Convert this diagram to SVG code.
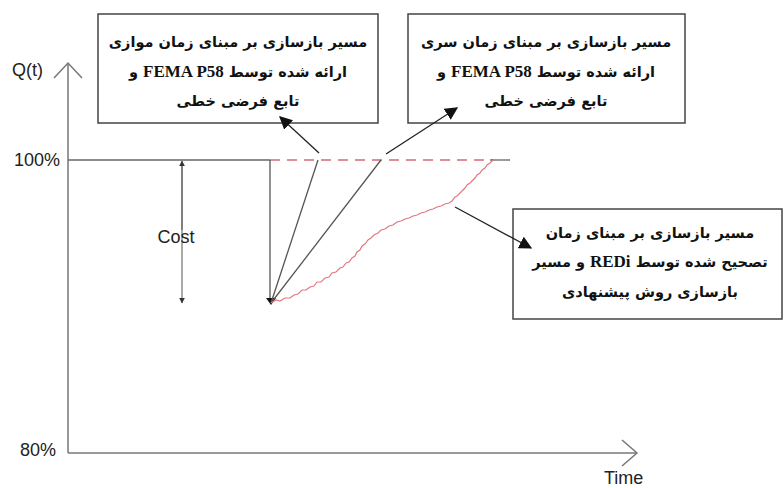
<svg xmlns="http://www.w3.org/2000/svg" width="784" height="488" viewBox="0 0 784 488">
<defs>
<style>
.axis{stroke:#777;stroke-width:1.5;fill:none}
.lbl{font-family:"Liberation Sans",Arial,sans-serif;font-size:18px;fill:#222}
.box{fill:#fff;stroke:#444;stroke-width:1.5}
.fa{font-family:"DejaVu Sans",sans-serif;font-weight:bold;font-size:14.5px;fill:#111;direction:rtl;text-anchor:middle}
.lat{font-family:"Liberation Serif",serif;font-weight:bold;font-size:17px}
.ray{stroke:#555;stroke-width:1.3;fill:none}
.ptr{stroke:#222;stroke-width:1.3;fill:none}
</style>
<marker id="ah" viewBox="0 0 10 10" refX="9" refY="5" markerWidth="13" markerHeight="13" markerUnits="userSpaceOnUse" orient="auto">
<path d="M0,0L10,5L0,10z" fill="#111"/>
</marker>
<marker id="sm" viewBox="0 0 10 10" refX="9" refY="5" markerWidth="6" markerHeight="6" markerUnits="userSpaceOnUse" orient="auto">
<path d="M0,0L10,5L0,10z" fill="#333"/>
</marker>
</defs>
<g id="axes">
<line class="axis" x1="68" y1="453" x2="68" y2="63"/>
<polyline class="axis" points="54,78 68,63 82,78"/>
<line class="axis" x1="68" y1="453" x2="637" y2="453"/>
<polyline class="axis" points="622,440 637,453 622,466"/>
<text class="lbl" x="12" y="76">Q(t)</text>
<text class="lbl" x="14" y="166">100%</text>
<text class="lbl" x="20" y="456">80%</text>
<text class="lbl" x="604" y="484" font-size="16">Time</text>
</g>
<g id="baseline">
<line x1="68" y1="160" x2="270" y2="160" stroke="#666" stroke-width="1.3"/>
<line x1="270" y1="160" x2="493" y2="160" stroke="#d86a7a" stroke-width="1.3" stroke-dasharray="10,7"/>
<line x1="490" y1="160" x2="510" y2="160" stroke="#666" stroke-width="1.3"/>
</g>
<g id="cost">
<line x1="182" y1="166" x2="182" y2="303" stroke="#555" stroke-width="1" marker-end="url(#sm)"/>
<line x1="182" y1="230" x2="182" y2="161" stroke="#555" stroke-width="1" marker-end="url(#sm)"/>
<text class="lbl" x="176" y="243" text-anchor="middle" font-size="19">Cost</text>
</g>
<g id="paths">
<line class="ray" x1="270" y1="160" x2="270" y2="301"/>
<path d="M266,298L276,298L271,305z" fill="#111"/>
<line class="ray" x1="271" y1="303" x2="318" y2="160"/>
<line class="ray" x1="271" y1="303" x2="381" y2="160"/>
<polyline fill="none" stroke="#e07a80" stroke-width="1.2" points="271,303 276,300 280,301 285,298 290,298 294,295 298,294 302,290 306,290 310,287 314,286 317,282 321,282 325,278 329,277 332,273 336,272 340,268 343,267 346,263 349,262 352,258 355,256 357,252 360,250 362,246 365,244 368,240 371,238 374,235 378,233 381,230 385,229 389,226 393,225 397,222 401,221 405,219 409,218 413,216 417,215 421,213 425,212 429,210 433,209 437,207 441,206 445,204 449,203 452,201 455,197 457,196 460,193 463,190 465,188 467,185 470,183 473,180 475,178 477,175 480,173 482,170 485,168 487,165 490,163 493,160"/>
</g>
<g id="box1">
<rect class="box" x="98" y="14" width="280" height="109"/>
<text class="fa" x="238" y="47">مسیر بازسازی بر مبنای زمان موازی</text>
<text class="fa" x="238" y="77">ارائه شده توسط <tspan class="lat">FEMA P58</tspan> و</text>
<text class="fa" x="238" y="106">تابع فرضی خطی</text>
</g>
<g id="box2">
<rect class="box" x="408" y="14" width="277" height="109"/>
<text class="fa" x="546" y="47">مسیر بازسازی بر مبنای زمان سری</text>
<text class="fa" x="546" y="77">ارائه شده توسط <tspan class="lat">FEMA P58</tspan> و</text>
<text class="fa" x="546" y="106">تابع فرضی خطی</text>
</g>
<g id="box3">
<rect class="box" x="513" y="209" width="269" height="110"/>
<text class="fa" x="650" y="238">مسیر بازسازی بر مبنای زمان</text>
<text class="fa" x="650" y="267">تصحیح شده توسط <tspan class="lat">REDi</tspan> و مسیر</text>
<text class="fa" x="650" y="297">بازسازی روش پیشنهادی</text>
</g>
<g id="connectors">
<line class="ptr" x1="319" y1="153" x2="280" y2="117" marker-end="url(#ah)"/>
<line class="ptr" x1="386" y1="154" x2="457" y2="108" marker-end="url(#ah)"/>
<line class="ptr" x1="455" y1="207" x2="531" y2="248" marker-end="url(#ah)"/>
</g>
</svg>
